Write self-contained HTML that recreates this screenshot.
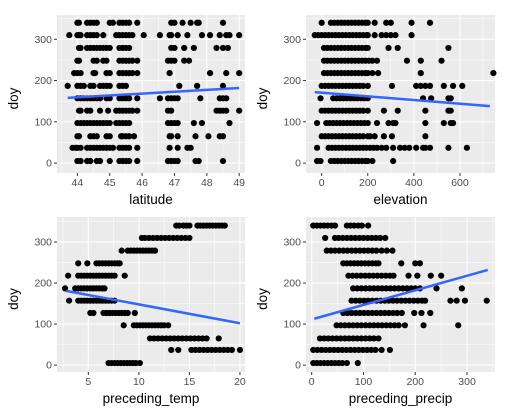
<!DOCTYPE html>
<html><head><meta charset="utf-8"><style>
html,body{margin:0;padding:0;background:#fff;}
svg{display:block;font-family:"Liberation Sans",sans-serif;}
</style></head><body>
<svg id="chart" width="510" height="420" viewBox="0 0 510 420" xmlns="http://www.w3.org/2000/svg"></svg>
<script>
const doyLevels = [340,310,279,248,218,187,157,127,97,65,37,5];

const latX = [
 [44.0,44.05,44.3,44.4,44.5,44.6,45.0,45.1,45.3,45.4,45.5,45.6,45.85,46.9,47.0,47.25,47.5,47.7,47.75,48.5],
 [43.75,44.0,44.05,44.1,44.3,44.4,44.5,44.6,44.8,45.2,45.3,45.4,45.5,45.6,45.7,46.05,46.55,46.85,46.9,47.1,47.4,47.85,48.1,48.4,48.6,48.7,49.0],
 [44.05,44.1,44.3,44.4,44.5,44.6,44.7,44.8,44.9,45.0,45.3,45.4,45.5,45.6,46.9,47.0,47.3,47.6,48.3,48.5,48.65],
 [44.0,44.05,44.5,44.6,44.8,44.9,45.3,45.4,45.5,45.6,45.7,45.85,46.8,46.9,47.0,47.3,47.45],
 [43.9,44.0,44.1,44.5,44.55,44.9,45.0,45.3,45.4,45.5,45.6,45.7,45.85,46.85,48.1,48.6,49.0],
 [43.7,44.0,44.1,44.2,44.4,44.5,44.7,44.8,44.9,45.0,45.3,45.4,45.5,47.15,47.7,48.5],
 [44.0,44.1,44.2,44.3,44.4,44.5,44.6,44.7,44.9,45.0,45.3,45.4,45.5,45.6,45.85,46.55,46.8,46.9,47.0,47.1,47.8,48.4,48.5,48.6],
 [44.05,44.1,44.3,44.4,44.7,44.95,45.2,45.3,45.4,45.5,45.6,45.7,45.85,46.8,46.9,48.3,48.4,48.5,48.6,49.0],
 [44.0,44.1,44.2,44.3,44.4,44.5,44.6,44.7,44.8,44.9,45.0,45.2,45.3,45.4,45.5,45.6,46.8,46.9,47.0,47.1,47.6,47.85,48.7],
 [44.0,44.05,44.4,44.5,44.6,44.9,45.0,45.35,45.4,45.5,45.6,45.75,46.85,46.9,47.1,47.65,48.05,48.4,48.5],
 [43.85,43.95,44.0,44.1,44.3,44.4,44.5,44.6,44.7,44.8,44.9,45.0,45.1,45.3,45.4,45.5,45.6,45.85,46.85,47.1,47.4,47.5],
 [44.0,44.1,44.3,44.4,44.6,44.7,45.0,45.3,45.4,45.5,45.6,45.85,46.8,46.9,47.0,47.1,47.65,47.75,48.5]
];
const elevX = [
 [0,40,55,70,85,100,115,130,145,160,175,190,200,230,280,300,390,470],
 [-30,-15,0,15,30,45,60,75,90,105,120,135,150,165,180,195,200,230,260,280,300,320,390],
 [10,25,40,55,70,85,100,115,130,145,160,175,190,200,290,330,550],
 [10,25,40,55,70,85,100,115,130,145,160,175,190,205,220,240,370,430,520],
 [10,25,40,55,70,85,100,115,130,145,160,175,190,200,220,245,430,745],
 [0,15,30,45,60,75,90,105,120,135,150,165,180,200,305,410,430,450,470,530,570,610],
 [-5,50,65,80,95,110,125,140,155,170,185,200,440,475,550,560],
 [0,15,30,45,60,75,90,105,120,135,150,165,180,200,270,330,450,550,560],
 [-20,20,35,50,65,80,95,110,125,140,155,170,185,200,240,290,310,320,450,530,560,570],
 [0,15,30,45,60,75,90,105,120,135,150,165,180,200,210,230,270,305,450],
 [-20,30,45,60,75,90,105,120,135,150,165,180,195,210,225,240,260,280,310,340,360,380,410,440,450,470,550,630],
 [-20,-5,40,55,70,85,100,115,130,145,160,175,190,200,220,310]
];
const tempX = [
 [13.7,14.0,14.4,14.7,15.0,15.8,16.1,16.4,16.7,17.0,17.3,17.6,17.9,18.2,18.5],
 [10.3,10.6,11.0,11.4,11.8,12.2,12.6,13.0,13.4,13.8,14.2,14.6,15.0],
 [8.3,8.9,9.2,9.5,9.8,10.1,10.4,10.7,11.0,11.3,11.6],
 [4.0,4.9,5.8,6.1,6.4,6.7,7.0,7.3,7.6,7.9,8.1],
 [3.0,4.0,4.3,4.6,4.9,5.2,5.5,5.8,6.1,6.4,6.7,7.0,7.3,7.6,8.6],
 [2.7,3.7,4.0,4.3,4.6,4.9,5.2,5.5,5.8,6.1,6.4,6.6],
 [3.1,4.0,4.3,4.6,4.9,5.2,5.5,5.8,6.1,6.4,6.7,7.0,7.3,7.6],
 [5.2,5.5,6.5,6.8,7.1,7.4,7.7,8.0,8.3,8.6,8.9,9.6],
 [8.5,9.5,9.8,10.1,10.4,10.7,11.0,11.3,11.6,11.9,12.2,12.5,12.9],
 [11.1,11.5,11.9,12.3,12.7,13.1,13.5,13.9,14.3,14.7,15.1,15.5,15.9,16.3,16.7,17.9],
 [13.2,13.9,15.2,15.6,16.0,16.4,16.8,17.2,17.6,18.0,18.4,18.8,19.2,20.0],
 [7.0,7.3,7.6,7.9,8.2,8.5,8.8,9.1,9.4,9.7,10.1]
];
const precipX = [
 [3,10,17,24,31,38,45,68,75,82,90,97,109],
 [26,45,52,60,68,76,84,92,100,108,116,124,132,142],
 [29,37,45,53,61,69,77,85,93,101,109,117,125,135,145,156],
 [61,68,75,82,89,96,103,110,117,124,129,173,200,209],
 [71,79,87,95,103,111,119,127,135,143,151,158,187,204,230,250],
 [80,88,96,104,112,120,128,136,144,152,160,168,176,184,192,200,209,241,290],
 [77,85,93,101,109,117,125,133,141,149,157,165,173,181,189,197,205,213,219,268,280,296,338],
 [61,69,77,85,93,101,109,117,125,133,141,149,157,165,174,198,212,229],
 [48,56,64,72,80,88,96,104,112,120,128,136,144,152,160,168,180,216,283],
 [16,24,32,40,48,56,64,72,80,88,96,104,112,120,129],
 [3,11,19,27,35,43,51,59,67,75,83,91,99,107,115,123,135,151],
 [3,10,17,24,31,38,45,52,59,68,89]
];
const fitLat = [[43.7,158],[49.0,182]];
const fitElev = [[-30,172],[730,138]];
const fitTemp = [[2.8,181],[20,102]];
const fitPrecip = [[5,113],[340,232]];

const xTicksLat = [44,45,46,47,48,49];
const xTicksElev = [0,200,400,600];
const xTicksTemp = [5,10,15,20];
const xTicksPrecip = [0,100,200,300];
const yTicks = [0,100,200,300];

const NS = "http://www.w3.org/2000/svg";
const svg = document.getElementById('chart');
function mk(tag, attrs, parent){
  const e = document.createElementNS(NS, tag);
  for (const k in attrs) e.setAttribute(k, attrs[k]);
  (parent||svg).appendChild(e);
  return e;
}

const panels = [
  {name:'latitude', x0:57,x1:245,y0:15,y1:173, xmin:43.37,xmax:49.18, ymin:-24,ymax:358.8, xs:latX, fit:fitLat, ticks:xTicksLat, minor:0.5},
  {name:'elevation', x0:306,x1:495,y0:15,y1:173, xmin:-68,xmax:752, ymin:-24,ymax:358.8, xs:elevX, fit:fitElev, ticks:xTicksElev, minor:100},
  {name:'preceding_temp', x0:57,x1:245,y0:217,y1:372, xmin:1.9,xmax:20.5, ymin:-16.8,ymax:361, xs:tempX, fit:fitTemp, ticks:xTicksTemp, minor:2.5},
  {name:'preceding_precip', x0:306,x1:495,y0:217,y1:372, xmin:-11,xmax:354, ymin:-16.8,ymax:361, xs:precipX, fit:fitPrecip, ticks:xTicksPrecip, minor:50}
];

panels.forEach(p=>{
  const g = mk('g',{});
  
  
  const sx = v => p.x0 + (v - p.xmin)/(p.xmax - p.xmin)*(p.x1 - p.x0);
  const sy = v => p.y1 - (v - p.ymin)/(p.ymax - p.ymin)*(p.y1 - p.y0);
  const bg = mk('rect',{x:p.x0,y:p.y0,width:p.x1-p.x0,height:p.y1-p.y0,fill:'#EBEBEB'},g);
  
  
  for (let v = Math.ceil(p.xmin/p.minor)*p.minor; v <= p.xmax; v += p.minor){
    mk('line',{x1:sx(v),x2:sx(v),y1:p.y0,y2:p.y1,stroke:'#fff','stroke-width':0.5},g);
  }
  [-50,50,150,250,350].forEach(v=>{
    if (v>p.ymin && v<p.ymax) mk('line',{x1:p.x0,x2:p.x1,y1:sy(v),y2:sy(v),stroke:'#fff','stroke-width':0.5},g);
  });
  p.ticks.forEach(v=>{
    mk('line',{x1:sx(v),x2:sx(v),y1:p.y0,y2:p.y1,stroke:'#fff','stroke-width':1.1},g);
    mk('line',{x1:sx(v),x2:sx(v),y1:p.y1,y2:p.y1+3,stroke:'#333','stroke-width':1},g);
    const t = mk('text',{x:sx(v),y:p.y1+13,'text-anchor':'middle','font-size':10.5,fill:'#4D4D4D'},g);
    t.textContent = v;
    
    
  });
  yTicks.forEach(v=>{
    mk('line',{x1:p.x0,x2:p.x1,y1:sy(v),y2:sy(v),stroke:'#fff','stroke-width':1.1},g);
    mk('line',{x1:p.x0-3,x2:p.x0,y1:sy(v),y2:sy(v),stroke:'#333','stroke-width':1},g);
    const t = mk('text',{x:p.x0-5,y:sy(v)+3.6,'text-anchor':'end','font-size':10.5,fill:'#4D4D4D'},g);
    t.textContent = v;
    
    
  });
  p.xs.forEach((row,i)=>{
    row.forEach(x=>{
      const c = mk('circle',{cx:sx(x),cy:sy(doyLevels[i]),r:3.1,fill:'#000'},g);
      
      
    });
  });
  const l = mk('line',{x1:sx(p.fit[0][0]),y1:sy(p.fit[0][1]),x2:sx(p.fit[1][0]),y2:sy(p.fit[1][1]),stroke:'#3366FF','stroke-width':2.5},g);
  
  
  const xt = mk('text',{x:(p.x0+p.x1)/2,y:p.y1+31,'text-anchor':'middle','font-size':13.5,fill:'#000'},g);
  xt.textContent = p.name;
  
  
  const cy = (p.y0+p.y1)/2 + 4.5;
  const yt = mk('text',{x:p.x0-39,y:cy,'text-anchor':'middle','font-size':13.5,fill:'#000',transform:`rotate(-90 ${p.x0-39} ${cy})`},g);
  yt.textContent = 'doy';
  
  
});
</script>
</body></html>
